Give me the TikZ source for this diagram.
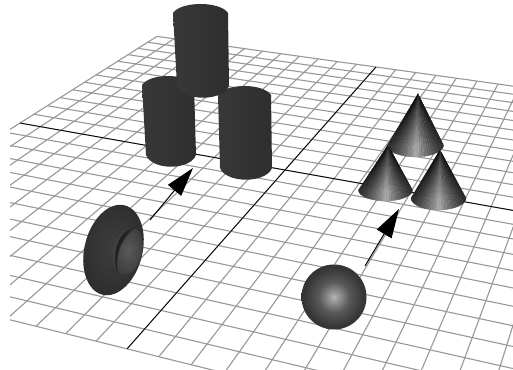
\documentclass[tikz,border=0pt]{standalone}
\usepackage{tikz}
\usetikzlibrary{arrows.meta, shapes.geometric, fadings}
\definecolor{GridGray}{HTML}{989898}
\definecolor{CylDark}{HTML}{2E2E2E}
\definecolor{CylMid}{HTML}{3E3E3E}
\definecolor{CylLeft}{HTML}{383838}
\definecolor{TorusLight}{HTML}{5A5A5A}
\definecolor{TorusDark}{HTML}{1E1E1E}
\definecolor{BallLight}{HTML}{B4B4B4}
\definecolor{BallInner}{HTML}{8C8C8C}
\definecolor{BallMid}{HTML}{585858}
\definecolor{BallRim}{HTML}{383838}
\definecolor{BallDark}{HTML}{262626}
\pgfdeclareradialshading{ballshade}{\pgfpoint{0bp}{0bp}}{color(0bp)=(BallLight); color(5bp)=(BallInner); color(12bp)=(BallMid); color(22bp)=(BallRim); color(33bp)=(BallDark); color(50bp)=(BallDark)}
\tikzset{
    declare function={
        planex(\u,\v)=(263.1*\u+192.1*\v+285)/(-0.094*\u+0.269*\v+1);
        planey(\u,\v)=(35.4*\u-85*\v+170)/(-0.094*\u+0.269*\v+1);
    },
    gridline/.style={draw=GridGray, line width=1.1pt},
    axisline/.style={draw=black, line width=0.8pt},
    cyl/.style={left color=CylLeft, middle color=CylMid, right color=CylDark, draw=none},
    arr/.style={-{Triangle[length=29pt,width=17pt]}, line width=1pt, draw=black},
    ball/.style={circle, minimum size=65pt, inner sep=0pt, shading=ballshade},
    torusbody/.style={ellipse, minimum width=58pt, minimum height=92pt, inner sep=0pt, rotate=-14, inner color=CylMid, outer color=CylDark},
    torushole/.style={ellipse, minimum width=28pt, minimum height=48pt, inner sep=0pt, rotate=-12, inner color=TorusLight, outer color=CylMid},
}
% cylinder: left top, right top, left bottom, right bottom, cap height
\newcommand{\cylinder}[9]{%
    \path[cyl] (#1,#2) .. controls (#1+8,#2-#9) and (#3-8,#4-#9) .. (#3,#4)
        -- (#7,#8) .. controls (#7-6,#8+#9*1.3) and (#5+6,#6+#9*1.3) .. (#5,#6) -- cycle;%
}
% cone drawn as a fan: apex x, apex y, base centre x, base centre y, rx, ry
\newcommand{\conefan}[6]{%
    \foreach \a in {0,6,...,174} {
        \pgfmathsetmacro\lev{32+52*abs(cos(\a+3))^0.8}
        \fill[black!\lev!white, draw=black!\lev!white, line width=0.2pt] (#1,#2) -- ({#3+#5*cos(\a)},{#4+#6*sin(\a)}) -- ({#3+#5*cos(\a+6)},{#4+#6*sin(\a+6)}) -- cycle;
    }
    \fill[black, opacity=0.7, path fading=south] (#1,#2) -- (#3+#5,#4) -- (#3-#5,#4) -- cycle;%
}
\begin{document}
\begin{tikzpicture}[x=1pt, y=-1pt]
\useasboundingbox (0,0) rectangle (513,369);
\fill[white] (0,0) rectangle (513,369);

% Floor grid
\begin{scope}
\clip (10,0) rectangle (513,369);
\foreach \k in {-12,...,12} {
    \pgfmathsetmacro\t{\k/12}
    \draw[gridline] ({planex(\t,1)},{planey(\t,1)}) -- ({planex(\t,-1)},{planey(\t,-1)});
    \draw[gridline] ({planex(1,\t)},{planey(1,\t)}) -- ({planex(-1,\t)},{planey(-1,\t)});
}
\draw[axisline] ({planex(0,1)},{planey(0,1)}) -- ({planex(0,-1)},{planey(0,-1)});
\draw[axisline] ({planex(-1,0)},{planey(-1,0)}) -- ({planex(1,0)},{planey(1,0)});
\end{scope}

% Cylinders
\cylinder{218}{95}{271}{95}{220}{168}{272}{168}{12}
\cylinder{142}{85}{194}{85}{146}{155}{196}{155}{12}
\cylinder{173}{13}{228}{13}{177}{86}{229}{86}{12}

% Cones
\conefan{418}{94}{415.5}{145}{28}{12}
\conefan{388}{145}{385.5}{190}{27}{11}
\conefan{440}{150}{438.5}{198}{27.5}{12}

% Sphere and torus
\node[ball] (sphere) at (334,297) {};
\node[torusbody] (torus) at (113.5,250) {};
\node[torushole] (hole) at (128,251) {};
\fill[TorusDark, opacity=0.45] (137,227) .. controls (122,225) and (109,248) .. (118,274) .. controls (114,255) and (122,238) .. (137,227);
\fill[TorusDark, opacity=0.8] (132,229) .. controls (120,232) and (110,252) .. (118,274) .. controls (115,256) and (120,240) .. (132,229);

% Arrows
\coordinate (torus_tail) at (150,220);
\coordinate (cyl_tip) at (193,168);
\coordinate (sphere_tail) at (365,266);
\coordinate (cone_tip) at (399,209);
\draw[arr] (torus_tail) -- (cyl_tip);
\draw[arr] (sphere_tail) -- (cone_tip);

\end{tikzpicture}
\end{document}
